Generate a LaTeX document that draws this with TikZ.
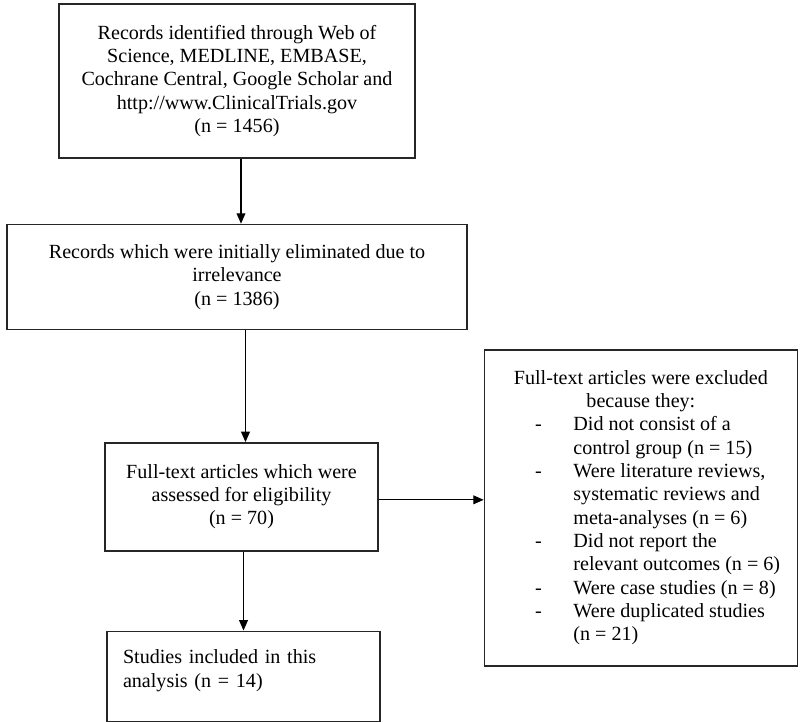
\documentclass[tikz,border=0pt]{standalone}
\usepackage{fontspec}
\setmainfont{Liberation Serif}
\usepackage{array}
\usetikzlibrary{
    arrows.meta,
    positioning
}
\tikzstyle{box} = [
    rectangle, draw,
    line width=1pt,
    text centered,
    align=center,
    draw=black!85,
    font=\fontsize{14.3}{16.6}\selectfont,
    inner sep=0pt
]
\tikzstyle{listbox} = [
    rectangle, draw,
    line width=1pt,
    draw=black!85,
    font=\fontsize{14.3}{16.6}\selectfont,
    minimum width=7.825cm,
    minimum height=7.9cm,
    inner sep=0pt
]
\tikzstyle{arrow} = [
    line width=0.9pt,
    -{Triangle[length=2.6mm, width=2.2mm]}
]
\begin{document}
\begin{tikzpicture}
\useasboundingbox (0,0) rectangle (20,-18.05);

\node (records) [box, minimum width=8.9cm, minimum height=3.85cm] at (5.925,-2.025)
    {Records identified through Web of\\Science, MEDLINE, EMBASE,\\Cochrane Central, Google Scholar and\\http://www.ClinicalTrials.gov\\(n = 1456)};
\node (screened) [box, below=1.625cm of records, minimum width=11.5cm, minimum height=2.625cm]
    {Records which were initially eliminated due to\\irrelevance\\(n = 1386)};
\node (fulltext) [box, below=2.8cm of screened, xshift=0.1125cm, minimum width=6.825cm, minimum height=2.7cm]
    {Full-text articles which were\\assessed for eligibility\\(n = 70)};
\node (included) [box, below=1.975cm of fulltext, xshift=0.05cm, align=left, text width=6.025cm, inner xsep=0.4cm, minimum height=2.25cm]
    {Studies included in this\\analysis (n = 14)\\[-0.2cm]\mbox{}};
\node (excluded) [listbox, right=2.625cm of fulltext, yshift=-0.275cm] {%
    \begin{tabular}{@{}p{2.225cm}@{}p{5.6cm}@{}}
    \multicolumn{2}{c}{Full-text articles were excluded}\\
    \multicolumn{2}{c}{because they:}\\
    \hspace*{1.27cm}- & Did not consist of a\newline control group (n = 15)\\
    \hspace*{1.27cm}- & Were literature reviews,\newline systematic reviews and\newline meta-analyses (n = 6)\\
    \hspace*{1.27cm}- & Did not report the\newline relevant outcomes (n = 6)\\
    \hspace*{1.27cm}- & Were case studies (n = 8)\\
    \hspace*{1.27cm}- & Were duplicated studies\newline (n = 21)
    \end{tabular}};

\draw [arrow] ([xshift=0.1cm]records.south) -- ([xshift=0.1cm]records.south |- screened.north);
\draw [arrow] ([xshift=0.1cm]fulltext.north |- screened.south) -- ([xshift=0.1cm]fulltext.north);
\draw [arrow] ([xshift=0.05cm]fulltext.south) -- ([xshift=0.05cm]fulltext.south |- included.north);
\draw [arrow] ([yshift=-0.075cm]fulltext.east) -- ([yshift=-0.075cm]fulltext.east -| excluded.west);

\end{tikzpicture}
\end{document}
